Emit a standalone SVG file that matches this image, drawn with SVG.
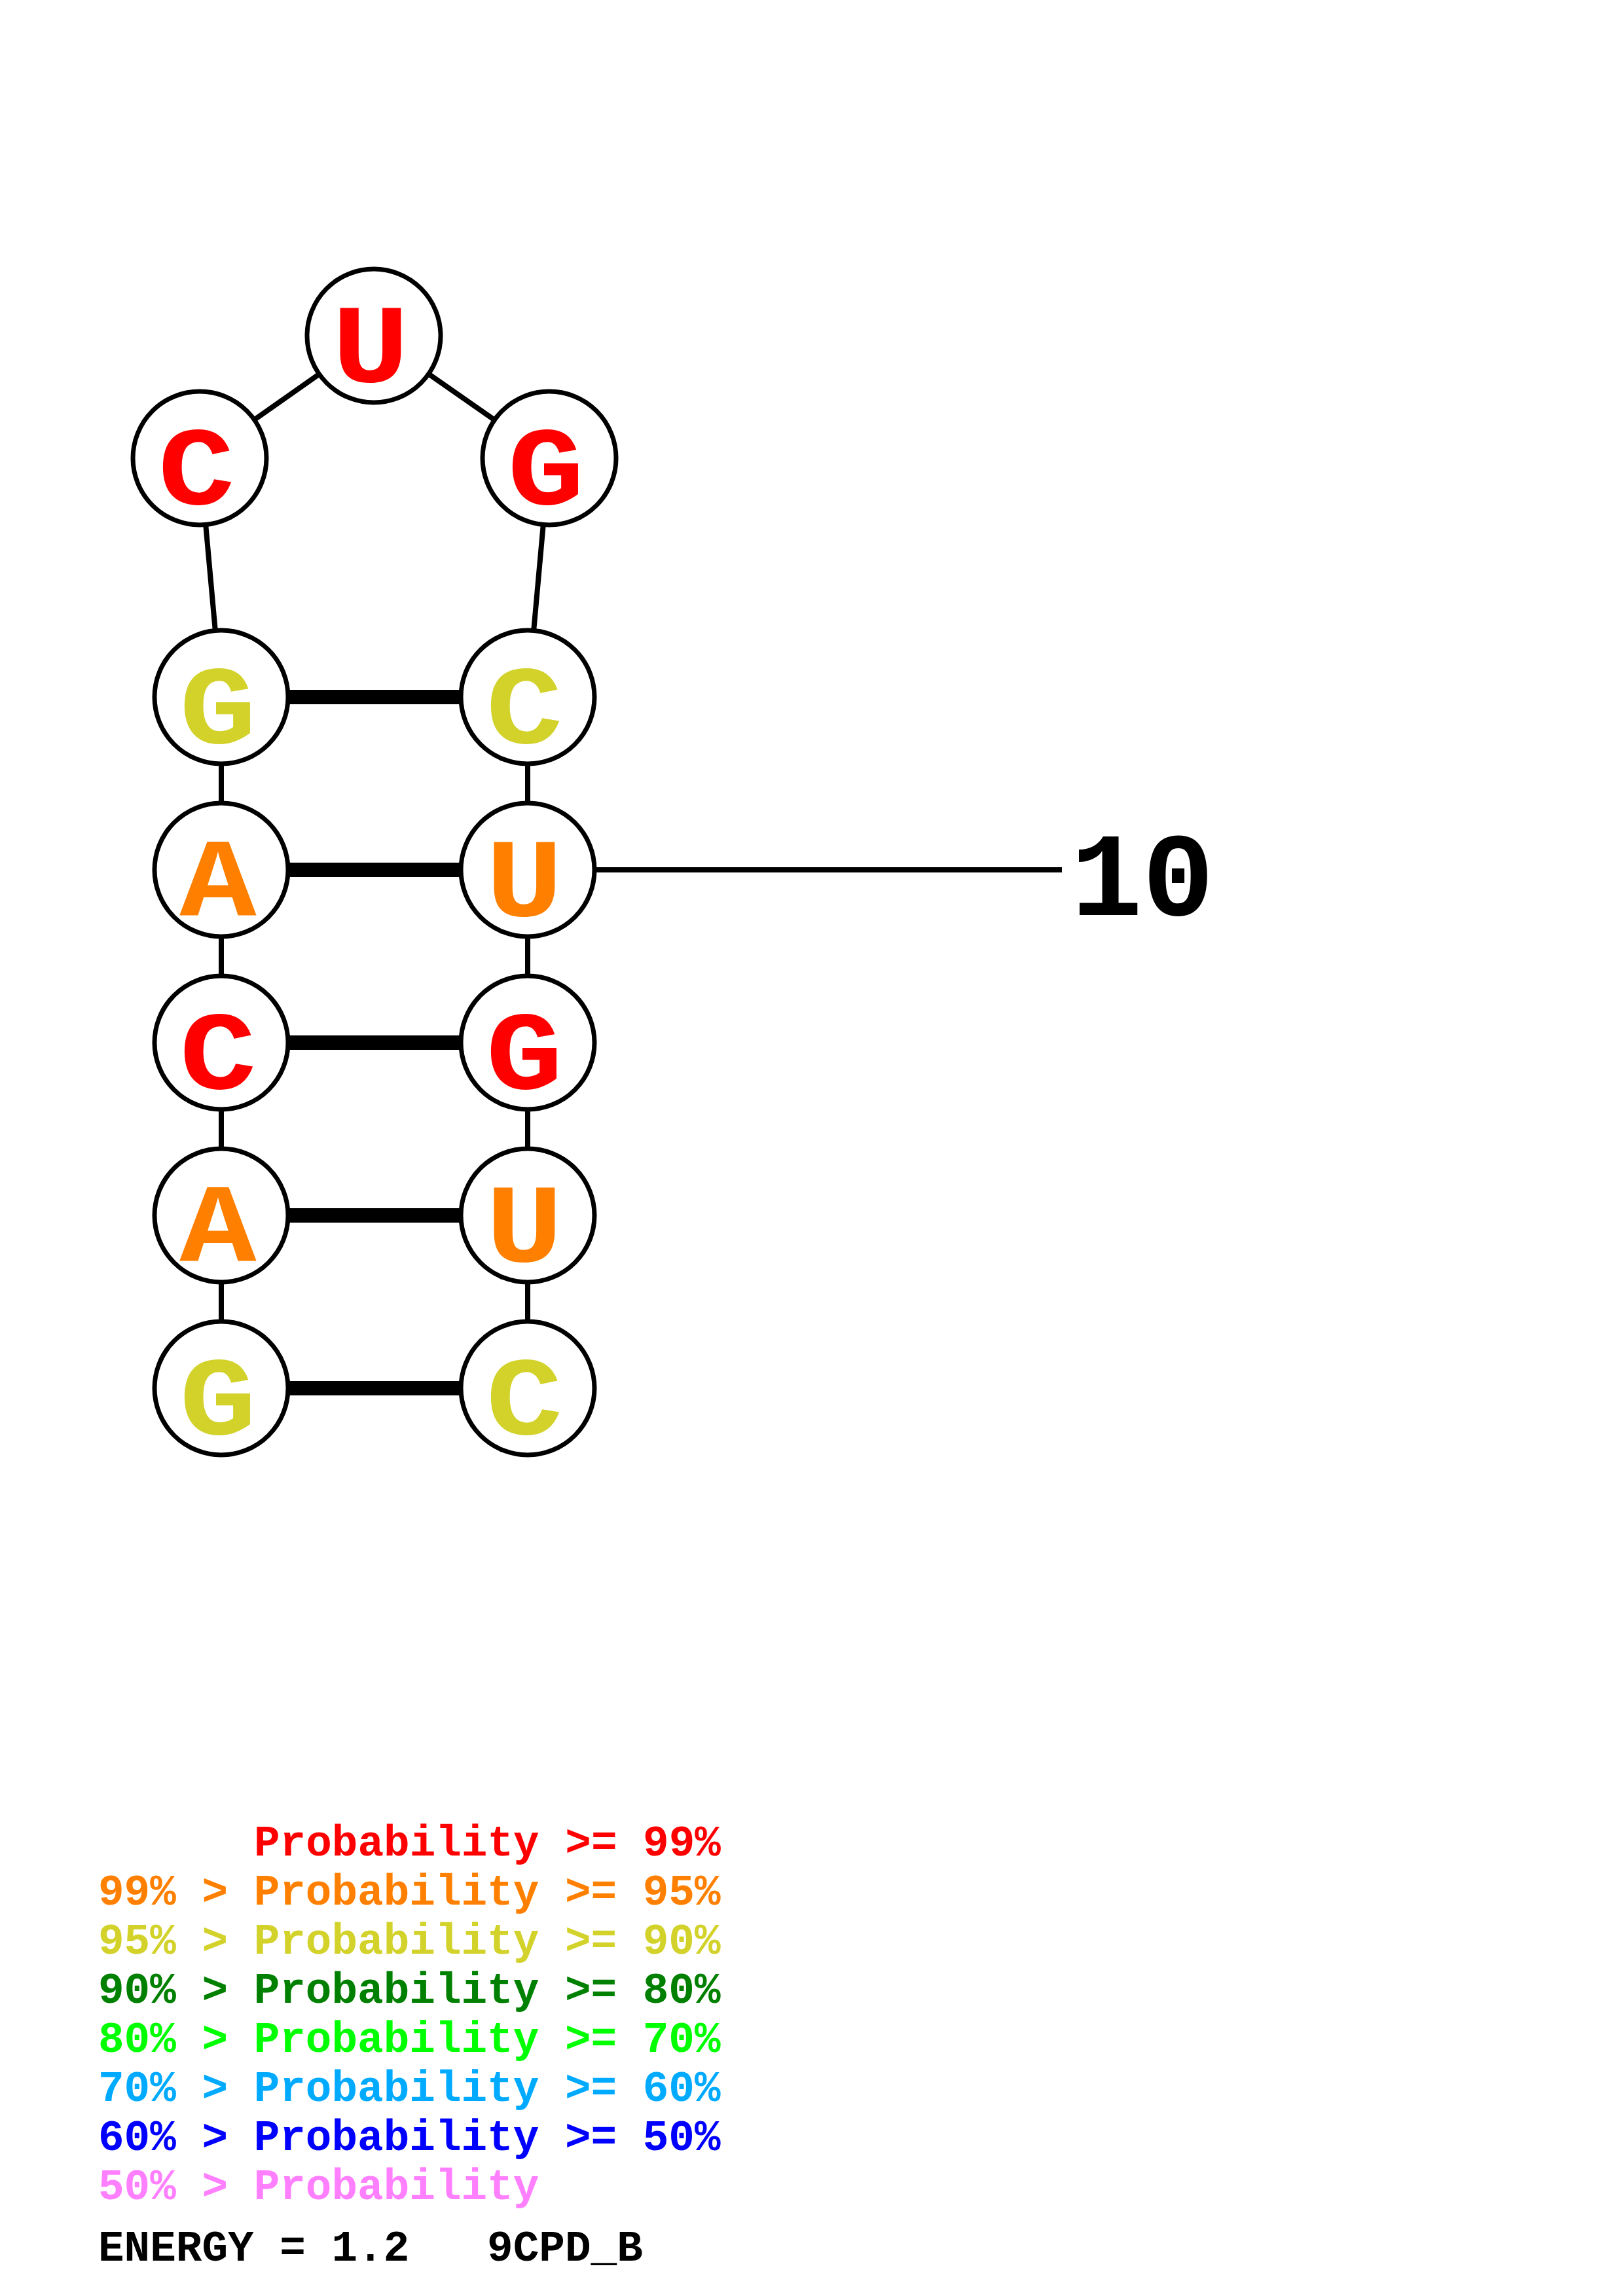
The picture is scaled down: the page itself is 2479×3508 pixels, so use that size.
<svg xmlns="http://www.w3.org/2000/svg" width="2479" height="3508" viewBox="0 0 2479 3508">
<style>
.bb{stroke:#000;stroke-width:8;fill:none}
.bp{stroke:#000;stroke-width:22;fill:none}
.nc{fill:#fff;stroke:#000;stroke-width:7}
.nt{font-family:"Liberation Mono","Courier New",monospace;font-weight:bold;font-size:170px;text-anchor:middle}
.lb10{font-family:"Liberation Mono","Courier New",monospace;font-weight:bold;font-size:182px;text-anchor:middle}
.lg{font-family:"Liberation Mono","Courier New",monospace;font-weight:bold;font-size:66px;white-space:pre}
.r{fill:#ff0000}.o{fill:#ff8000}.y{fill:#d2d22a}.dg{fill:#008000}.lgn{fill:#00ff00}.lb{fill:#00aaff}.b{fill:#0000ff}.p{fill:#ff80ff}.k{fill:#000}
</style>
<rect width="2479" height="3508" fill="#fff"/>
<g id="connectors">
<line class="bb" x1="338" y1="2121" x2="338" y2="1065"/>
<line class="bb" x1="806" y1="2121" x2="806" y2="1065"/>
<line class="bb" x1="338" y1="1065" x2="305" y2="700"/>
<line class="bb" x1="305" y1="700" x2="571" y2="513"/>
<line class="bb" x1="571" y1="513" x2="839" y2="700"/>
<line class="bb" x1="839" y1="700" x2="806" y2="1065"/>
<line class="bp" x1="338" y1="1065" x2="806" y2="1065"/>
<line class="bp" x1="338" y1="1329" x2="806" y2="1329"/>
<line class="bp" x1="338" y1="1593" x2="806" y2="1593"/>
<line class="bp" x1="338" y1="1857" x2="806" y2="1857"/>
<line class="bp" x1="338" y1="2121" x2="806" y2="2121"/>
<line class="bb" x1="806" y1="1329" x2="1622" y2="1329"/>
</g>
<g id="n1"><circle class="nc" cx="338" cy="2121" r="102"/><text class="nt y" transform="translate(333 2191) scale(1.15 1)">G</text></g>
<g id="n2"><circle class="nc" cx="338" cy="1857" r="102"/><text class="nt o" transform="translate(333 1927) scale(1.15 1)">A</text></g>
<g id="n3"><circle class="nc" cx="338" cy="1593" r="102"/><text class="nt r" transform="translate(333 1663) scale(1.15 1)">C</text></g>
<g id="n4"><circle class="nc" cx="338" cy="1329" r="102"/><text class="nt o" transform="translate(333 1399) scale(1.15 1)">A</text></g>
<g id="n5"><circle class="nc" cx="338" cy="1065" r="102"/><text class="nt y" transform="translate(333 1135) scale(1.15 1)">G</text></g>
<g id="n6"><circle class="nc" cx="305" cy="700" r="102"/><text class="nt r" transform="translate(300 770) scale(1.15 1)">C</text></g>
<g id="n7"><circle class="nc" cx="571" cy="513" r="102"/><text class="nt r" transform="translate(566 583) scale(1.15 1)">U</text></g>
<g id="n8"><circle class="nc" cx="839" cy="700" r="102"/><text class="nt r" transform="translate(834 770) scale(1.15 1)">G</text></g>
<g id="n9"><circle class="nc" cx="806" cy="1065" r="102"/><text class="nt y" transform="translate(801 1135) scale(1.15 1)">C</text></g>
<g id="n10"><circle class="nc" cx="806" cy="1329" r="102"/><text class="nt o" transform="translate(801 1399) scale(1.15 1)">U</text></g>
<g id="n11"><circle class="nc" cx="806" cy="1593" r="102"/><text class="nt r" transform="translate(801 1663) scale(1.15 1)">G</text></g>
<g id="n12"><circle class="nc" cx="806" cy="1857" r="102"/><text class="nt o" transform="translate(801 1927) scale(1.15 1)">U</text></g>
<g id="n13"><circle class="nc" cx="806" cy="2121" r="102"/><text class="nt y" transform="translate(801 2191) scale(1.15 1)">C</text></g>
<g id="label10"><text class="lb10 k" x="1745" y="1398">10</text></g>
<g id="legend">
<text class="lg r" x="388" y="2835">Probability &gt;= 99%</text>
<text class="lg o" x="150" y="2910">99% &gt; Probability &gt;= 95%</text>
<text class="lg y" x="150" y="2985">95% &gt; Probability &gt;= 90%</text>
<text class="lg dg" x="150" y="3060">90% &gt; Probability &gt;= 80%</text>
<text class="lg lgn" x="150" y="3135">80% &gt; Probability &gt;= 70%</text>
<text class="lg lb" x="150" y="3210">70% &gt; Probability &gt;= 60%</text>
<text class="lg b" x="150" y="3285">60% &gt; Probability &gt;= 50%</text>
<text class="lg p" x="150" y="3360">50% &gt; Probability</text>
<text class="lg k" x="150" y="3454" xml:space="preserve">ENERGY = 1.2   9CPD_B</text>
</g>
</svg>
